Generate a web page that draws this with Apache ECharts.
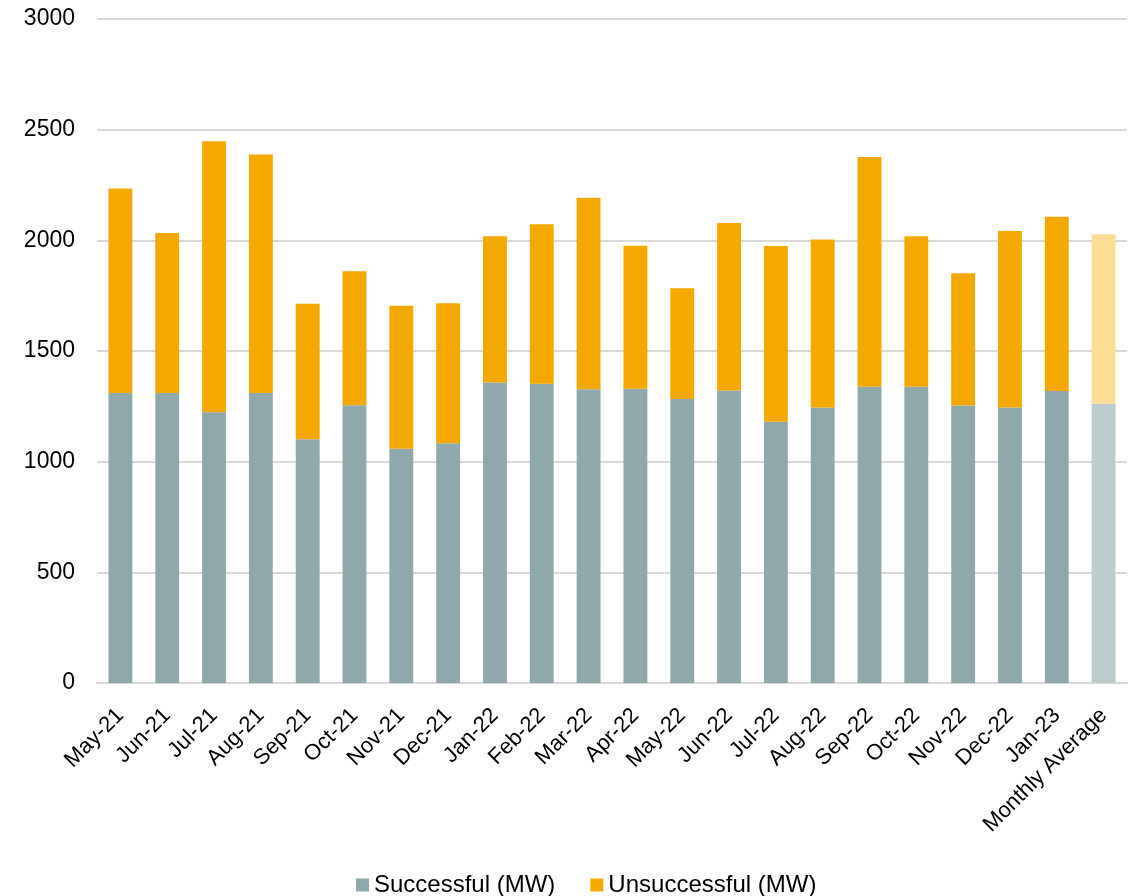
<!DOCTYPE html>
<html>
<head>
<meta charset="utf-8">
<script src="https://cdn.jsdelivr.net/npm/echarts@6/dist/echarts.min.js"></script>
<style>html,body{margin:0;padding:0;background:#fff;}#c{width:1133px;height:896px;}</style>
</head>
<body>
<div id="c"></div>
<script>
const categories = ["May-21","Jun-21","Jul-21","Aug-21","Sep-21","Oct-21","Nov-21","Dec-21","Jan-22","Feb-22","Mar-22","Apr-22","May-22","Jun-22","Jul-22","Aug-22","Sep-22","Oct-22","Nov-22","Dec-22","Jan-23","Monthly Average"];
const successful = [1310,1310,1223,1310,1101,1255,1058,1083,1358,1352,1327,1329,1283,1322,1180,1245,1338,1338,1254,1245,1319,1262];
const unsuccessful = [924,723,1225,1078,613,605,646,633,660,721,865,646,500,756,794,759,1038,681,597,797,787,766];
const seriesNames = ["Successful (MW)","Unsuccessful (MW)"];
const yTicks = [0,500,1000,1500,2000,2500,3000];

const colS = '#8FA8AC', colU = '#F5A800', colSAvg = '#BCCBCE', colUAvg = '#FDDC96';
const lastIdx = categories.length - 1;
function mk(arr, cAvg){
  return arr.map((v,i)=> i===lastIdx ? {value:v, itemStyle:{color:cAvg}} : v);
}
const FF = 'Liberation Sans, Arial, sans-serif';
const chart = echarts.init(document.getElementById('c'), null, {renderer:'canvas'});
chart.setOption({
  animation:false,
  backgroundColor:'#fff',
  textStyle:{fontFamily:FF},
  grid:{left:97,right:6,top:19,bottom:213,containLabel:false},
  legend:{
    top:868, left:351, padding:5, icon:'rect', itemWidth:13, itemHeight:13, itemGap:35,
    textStyle:{fontSize:24,color:'#000',fontFamily:FF},
    data:seriesNames
  },
  xAxis:{
    type:'category', data:categories,
    axisLine:{lineStyle:{color:'#d9d9d9',width:2}},
    axisTick:{show:false},
    axisLabel:{rotate:45,fontSize:22,color:'#000',margin:29,interval:0,fontFamily:FF}
  },
  yAxis:{
    type:'value', min:yTicks[0], max:yTicks[yTicks.length-1], interval:500,
    axisLine:{show:false}, axisTick:{show:false},
    axisLabel:{fontSize:23,color:'#000',margin:22,fontFamily:FF,formatter:function(v){return String(v);}},
    splitLine:{lineStyle:{color:'#d9d9d9',width:2}}
  },
  series:[
    {name:seriesNames[0], type:'bar', stack:'a', barWidth:'51%', data:mk(successful,colSAvg), itemStyle:{color:colS}},
    {name:seriesNames[1], type:'bar', stack:'a', barWidth:'51%', data:mk(unsuccessful,colUAvg), itemStyle:{color:colU}}
  ]
});
</script>
</body>
</html>
